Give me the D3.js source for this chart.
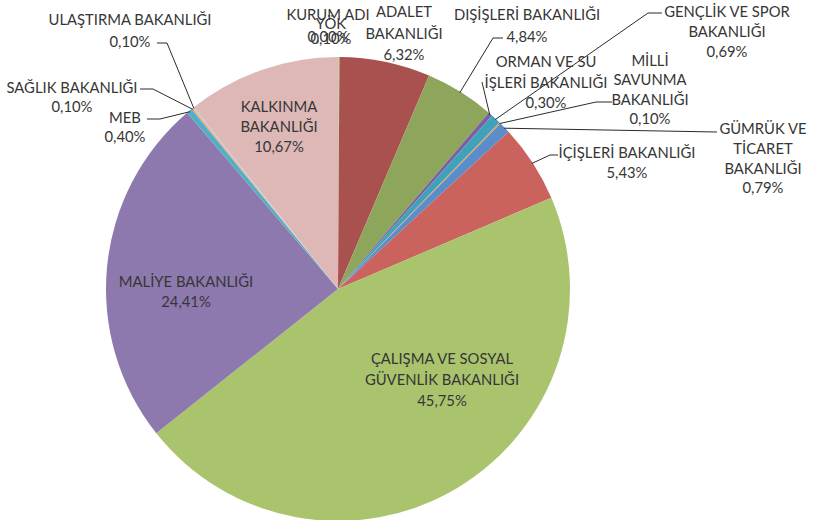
<!DOCTYPE html>
<html>
<head>
<meta charset="utf-8">
<script src="https://cdn.jsdelivr.net/npm/d3@7"></script>
<style>
  html, body { margin: 0; padding: 0; background: #ffffff; }
  svg { display: block; }
  text { font-family: Lato, "Open Sans", sans-serif; font-size: 14.8px; fill: #363636; }
</style>
</head>
<body>
<svg id="chart" width="815" height="520"></svg>
<script>
// ---- data ----
const categories = [
  "KURUM ADI",
  "YÖK",
  "ADALET BAKANLIĞI",
  "DIŞİŞLERİ BAKANLIĞI",
  "ORMAN VE SU İŞLERİ BAKANLIĞI",
  "GENÇLİK VE SPOR BAKANLIĞI",
  "MİLLİ SAVUNMA BAKANLIĞI",
  "GÜMRÜK VE TİCARET BAKANLIĞI",
  "İÇİŞLERİ BAKANLIĞI",
  "ÇALIŞMA VE SOSYAL GÜVENLİK BAKANLIĞI",
  "MALİYE BAKANLIĞI",
  "MEB",
  "SAĞLIK BAKANLIĞI",
  "ULAŞTIRMA BAKANLIĞI",
  "KALKINMA BAKANLIĞI"
];
const values = [0.00, 0.10, 6.32, 4.84, 0.30, 0.69, 0.10, 0.79, 5.43, 45.75, 24.41, 0.40, 0.10, 0.10, 10.67];

// ---- styles ----
const palette = [
  "#4F81BD", "#C3D69B", "#A9514F", "#8EA65B", "#7D5FA0", "#40A2BA", "#E09A5E", "#5B8DCA",
  "#CA625E", "#AAC46E", "#8D79AE", "#4FB0C8", "#F5A060", "#B9CCE4", "#DDB8B7"
];

// ---- label layout (x centre, first line y, line height, words per line, leader points near label) ----
const labelLayout = [
  { x: 328, y: 15, lh: 22, words: [2] },
  { x: 331, y: 24, lh: 15, words: [1] },
  { x: 404, y: 12, lh: 21.5, words: [1, 1] },
  { x: 527, y: 15, lh: 22, words: [2], leader: [[503, 38], [493, 38]] },
  { x: 546, y: 62, lh: 20.5, words: [3, 2], leader: [[482, 82]] },
  { x: 727, y: 12, lh: 20, words: [3, 1], leader: [[662, 13], [648, 13]] },
  { x: 650, y: 61, lh: 19.3, words: [1, 1, 1], leader: [[612, 102], [596, 102]] },
  { x: 763, y: 129, lh: 19.7, words: [2, 1, 1], leader: [[717, 132]] },
  { x: 627, y: 153, lh: 20, words: [2], leader: [[558, 155], [550, 155]] },
  { x: 442, y: 359, lh: 21, words: [3, 2] },
  { x: 186, y: 282, lh: 20, words: [2] },
  { x: 125, y: 118, lh: 19, words: [1], leader: [[147, 119], [160, 119]] },
  { x: 72, y: 88, lh: 19, words: [2], leader: [[140, 89], [153, 89]] },
  { x: 130, y: 20, lh: 22, words: [2], leader: [[157, 43], [167, 43]] },
  { x: 279, y: 107, lh: 20, words: [1, 1] }
];

const cx = 338, cy = 289, radius = 232;

const svg = d3.select("#chart");
const g = svg.append("g").attr("transform", `translate(${cx},${cy})`);

const pie = d3.pie().sort(null).value(d => d.value);
const data = categories.map((c, i) => ({ name: c, value: values[i], i }));
const arcs = pie(data);
const arc = d3.arc().innerRadius(0).outerRadius(radius);

g.selectAll("path.slice")
  .data(arcs)
  .join("path")
  .attr("class", "slice")
  .attr("d", arc)
  .attr("fill", d => palette[d.data.i]);

const fmt = v => v.toFixed(2).replace(".", ",") + "%";

// leader lines
const lineGen = d3.line();
arcs.forEach(a => {
  const L = labelLayout[a.data.i];
  if (!L.leader) return;
  const mid = (a.startAngle + a.endAngle) / 2;
  const px = cx + (radius - 1) * Math.sin(mid);
  const py = cy - (radius - 1) * Math.cos(mid);
  const pts = L.leader.concat([[px, py]]);
  svg.append("path")
    .attr("d", lineGen(pts))
    .attr("fill", "none")
    .attr("stroke", "#2b2b2b")
    .attr("stroke-width", 1);
});

// labels
arcs.forEach(a => {
  const L = labelLayout[a.data.i];
  const words = a.data.name.split(" ");
  const lines = [];
  let k = 0;
  L.words.forEach(n => { lines.push(words.slice(k, k + n).join(" ")); k += n; });
  lines.push(fmt(a.data.value));
  const t = svg.append("text")
    .attr("text-anchor", "middle");
  lines.forEach((s, j) => {
    t.append("tspan")
      .attr("x", L.x)
      .attr("y", L.y + j * L.lh)
      .attr("dy", "0.35em")
      .text(s);
  });
});
</script>
</body>
</html>
